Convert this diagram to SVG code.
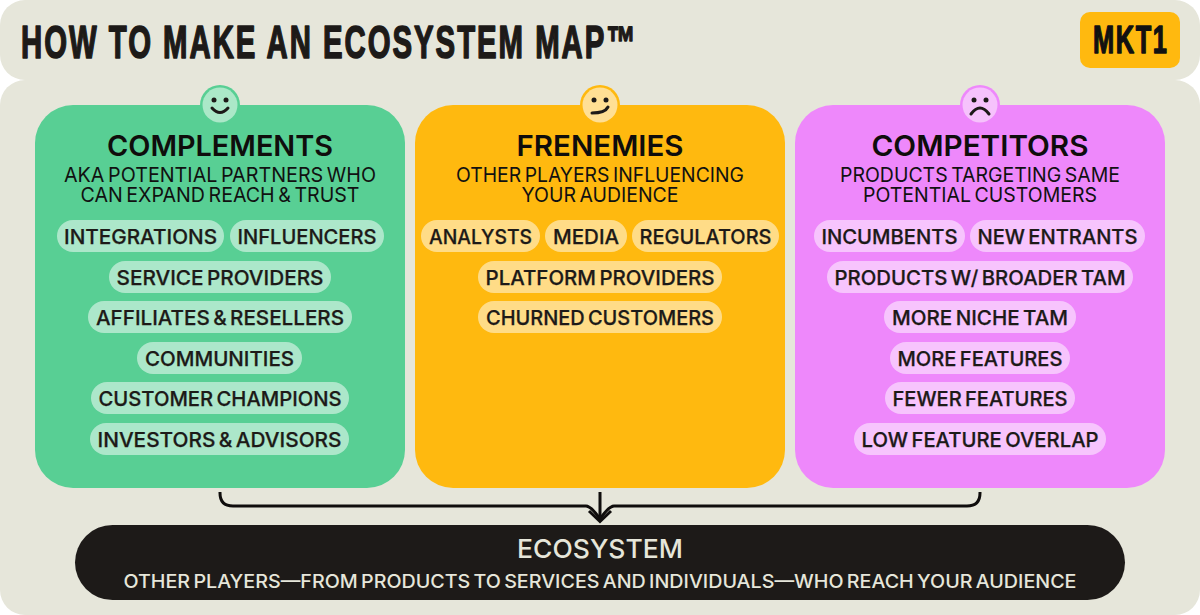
<svg xmlns="http://www.w3.org/2000/svg" width="1200" height="615" viewBox="0 0 1200 615">
<style>
.p{fill:#e6e6da}
text{font-family:Inter,"Liberation Sans",sans-serif;text-anchor:middle;fill:#111}
.b{font-family:"Liberation Sans",sans-serif;text-anchor:start;font-weight:700;stroke-linejoin:round}
.h{font-size:29px;font-weight:600;fill:#0f0d0c}
.s{font-size:20px;font-weight:400;word-spacing:-.1em}
.t{font-size:20px;font-weight:500;fill:#1d1a18;stroke:#1d1a18;stroke-width:.25;word-spacing:-.1em}
.e{font-size:19px;font-weight:500;fill:#e6e6da;word-spacing:-.1em}
.pill{fill:#fff;fill-opacity:.5}
.l{fill:none;stroke:#1d1a18;stroke-width:3;stroke-linecap:round}
.c{fill:none;stroke:#0f0d0c;stroke-width:3}
</style>
<rect width="1200" height="615" fill="#fff"/>
<g id="header">
<rect class="p" x="0" y="0" width="1200" height="80" rx="25"/>
<text class="b" transform="translate(21 58.200) scale(.645 1)" x="0" y="0" style="font-size:45.500px;fill:#1d1a18;stroke:#1d1a18;stroke-width:1.600" textLength="953" lengthAdjust="spacing">HOW TO MAKE AN ECOSYSTEM MAP™</text>
</g>
<g id="logo">
<rect x="1080" y="12" width="100" height="56" rx="10" fill="#ffb90f"/>
<text class="b" transform="translate(1093 53.300) scale(.66 1)" x="0" y="0" style="font-size:38.500px;fill:#111;stroke:#111;stroke-width:1.400" textLength="112" lengthAdjust="spacing">MKT1</text>
</g>
<rect class="p" x="0" y="80" width="1200" height="535" rx="25"/>
<g id="connectors">
<path class="c" d="M220 492V493Q220 506 233 506H586Q591 506 600 519Q609 506 614 506H967Q980 506 980 493V492"/>
<path class="c" d="M600 492V520M589 511L600 521.500L611 511"/>
</g>
<g id="complements">
<rect x="35" y="105" width="370" height="383" rx="38" fill="#58cf94"/>
<circle cx="220" cy="105" r="20" fill="#58cf94"/><circle cx="220" cy="105" r="17.500" fill="#abe8c8"/>
<circle cx="214" cy="100" r="2.500" fill="#1d1a18"/><circle cx="226" cy="100" r="2.500" fill="#1d1a18"/>
<path class="l" d="M212 108Q220 117 228 108"/>
<text class="h" x="220" y="156" textLength="226" lengthAdjust="spacingAndGlyphs">COMPLEMENTS</text>
<text class="s"><tspan x="220" y="182" textLength="312" lengthAdjust="spacingAndGlyphs">AKA POTENTIAL PARTNERS WHO</tspan><tspan x="220" y="202" textLength="279" lengthAdjust="spacingAndGlyphs">CAN EXPAND REACH &amp; TRUST</tspan></text>
<rect class="pill" x="57" y="220" width="167" height="32" rx="16"/><text class="t" x="140.500" y="244" textLength="153" lengthAdjust="spacingAndGlyphs">INTEGRATIONS</text>
<rect class="pill" x="230" y="220" width="154" height="32" rx="16"/><text class="t" x="307" y="244" textLength="139" lengthAdjust="spacingAndGlyphs">INFLUENCERS</text>
<rect class="pill" x="109" y="261" width="222" height="32" rx="16"/><text class="t" x="220" y="285" textLength="207" lengthAdjust="spacingAndGlyphs">SERVICE PROVIDERS</text>
<rect class="pill" x="88" y="301" width="264" height="32" rx="16"/><text class="t" x="220" y="325" textLength="248" lengthAdjust="spacingAndGlyphs">AFFILIATES &amp; RESELLERS</text>
<rect class="pill" x="137" y="342" width="165" height="32" rx="16"/><text class="t" x="219.500" y="366" textLength="149" lengthAdjust="spacingAndGlyphs">COMMUNITIES</text>
<rect class="pill" x="91" y="382" width="258" height="32" rx="16"/><text class="t" x="220" y="406" textLength="243" lengthAdjust="spacingAndGlyphs">CUSTOMER CHAMPIONS</text>
<rect class="pill" x="90" y="423" width="259" height="32" rx="16"/><text class="t" x="219.500" y="447" textLength="244" lengthAdjust="spacingAndGlyphs">INVESTORS &amp; ADVISORS</text>
</g>
<g id="frenemies">
<rect x="415" y="105" width="370" height="383" rx="38" fill="#ffb90f"/>
<circle cx="600" cy="105" r="20" fill="#ffb90f"/><circle cx="600" cy="105" r="17.500" fill="#ffdf94"/>
<circle cx="594" cy="100" r="2.500" fill="#1d1a18"/><circle cx="606" cy="100" r="2.500" fill="#1d1a18"/>
<path class="l" d="M592 113Q605 113 608 107"/>
<text class="h" x="600" y="156" textLength="167" lengthAdjust="spacingAndGlyphs">FRENEMIES</text>
<text class="s"><tspan x="600" y="182" textLength="288" lengthAdjust="spacingAndGlyphs">OTHER PLAYERS INFLUENCING</tspan><tspan x="600" y="202" textLength="157" lengthAdjust="spacingAndGlyphs">YOUR AUDIENCE</tspan></text>
<rect class="pill" x="421" y="220" width="119" height="32" rx="16"/><text class="t" x="480.500" y="244" textLength="103" lengthAdjust="spacingAndGlyphs">ANALYSTS</text>
<rect class="pill" x="545" y="220" width="82" height="32" rx="16"/><text class="t" x="586" y="244" textLength="66" lengthAdjust="spacingAndGlyphs">MEDIA</text>
<rect class="pill" x="632" y="220" width="147" height="32" rx="16"/><text class="t" x="705.500" y="244" textLength="132" lengthAdjust="spacingAndGlyphs">REGULATORS</text>
<rect class="pill" x="478" y="261" width="244" height="32" rx="16"/><text class="t" x="600" y="285" textLength="229" lengthAdjust="spacingAndGlyphs">PLATFORM PROVIDERS</text>
<rect class="pill" x="478" y="301" width="244" height="32" rx="16"/><text class="t" x="600" y="325" textLength="228" lengthAdjust="spacingAndGlyphs">CHURNED CUSTOMERS</text>
</g>
<g id="competitors">
<rect x="795" y="105" width="370" height="383" rx="38" fill="#ee88fb"/>
<circle cx="980" cy="105" r="20" fill="#ee88fb"/><circle cx="980" cy="105" r="17.500" fill="#f6c2fc"/>
<circle cx="974" cy="100" r="2.500" fill="#1d1a18"/><circle cx="986" cy="100" r="2.500" fill="#1d1a18"/>
<path class="l" d="M971 114Q980 102 989 114"/>
<text class="h" x="980" y="156" textLength="217" lengthAdjust="spacingAndGlyphs">COMPETITORS</text>
<text class="s"><tspan x="980" y="182" textLength="280" lengthAdjust="spacingAndGlyphs">PRODUCTS TARGETING SAME</tspan><tspan x="980" y="202" textLength="234" lengthAdjust="spacingAndGlyphs">POTENTIAL CUSTOMERS</tspan></text>
<rect class="pill" x="814" y="220" width="151" height="32" rx="16"/><text class="t" x="889.500" y="244" textLength="136" lengthAdjust="spacingAndGlyphs">INCUMBENTS</text>
<rect class="pill" x="970" y="220" width="175" height="32" rx="16"/><text class="t" x="1057.500" y="244" textLength="160" lengthAdjust="spacingAndGlyphs">NEW ENTRANTS</text>
<rect class="pill" x="827" y="261" width="306" height="32" rx="16"/><text class="t" x="980" y="285" textLength="291" lengthAdjust="spacingAndGlyphs">PRODUCTS W/ BROADER TAM</text>
<rect class="pill" x="884" y="301" width="192" height="32" rx="16"/><text class="t" x="980" y="325" textLength="176" lengthAdjust="spacingAndGlyphs">MORE NICHE TAM</text>
<rect class="pill" x="890" y="342" width="180" height="32" rx="16"/><text class="t" x="980" y="366" textLength="165" lengthAdjust="spacingAndGlyphs">MORE FEATURES</text>
<rect class="pill" x="885" y="382" width="190" height="32" rx="16"/><text class="t" x="980" y="406" textLength="175" lengthAdjust="spacingAndGlyphs">FEWER FEATURES</text>
<rect class="pill" x="854" y="423" width="252" height="32" rx="16"/><text class="t" x="980" y="447" textLength="237" lengthAdjust="spacingAndGlyphs">LOW FEATURE OVERLAP</text>
</g>
<g id="ecosystem">
<rect x="75" y="525" width="1050" height="75" rx="37.500" fill="#1d1a18"/>
<text x="600" y="558" style="font-size:26px;font-weight:500;fill:#e6e6da" textLength="166" lengthAdjust="spacingAndGlyphs">ECOSYSTEM</text>
<text class="e" x="600" y="588" textLength="953" lengthAdjust="spacingAndGlyphs">OTHER PLAYERS—FROM PRODUCTS TO SERVICES AND INDIVIDUALS—WHO REACH YOUR AUDIENCE</text>
</g>
</svg>
